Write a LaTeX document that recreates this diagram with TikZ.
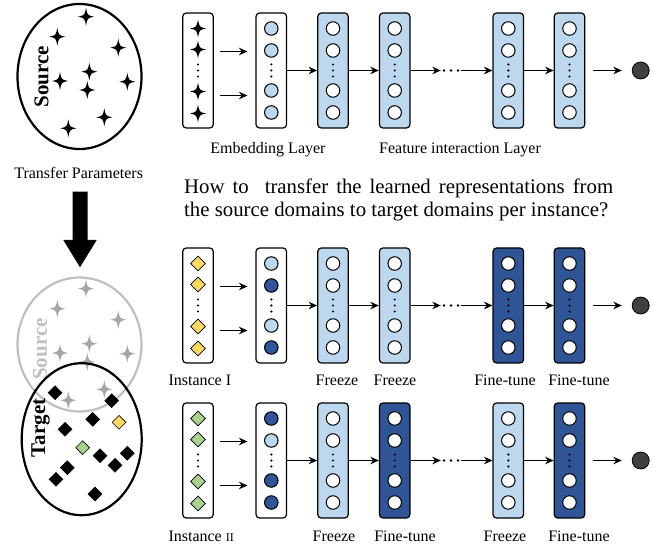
\documentclass[tikz,border=0pt]{standalone}
\usepackage{fontspec}
\setmainfont{Liberation Serif}
\usetikzlibrary{arrows,arrows.meta,positioning,shapes}

\definecolor{paleblue}{HTML}{BDD7EE}
\definecolor{deepblue}{HTML}{2F5597}
\definecolor{gold}{HTML}{FFD966}
\definecolor{leaf}{HTML}{A9D18E}
\definecolor{ghost}{HTML}{BFBFBF}
\definecolor{ghoststar}{HTML}{A6A6A6}
\definecolor{sinkgray}{HTML}{404040}

\tikzset{
  spark/.pic={\fill (0,-9) .. controls (1.4,-1.4) .. (8,0) .. controls (1.4,1.4) .. (0,9)
    .. controls (-1.4,1.4) .. (-8,0) .. controls (-1.4,-1.4) .. (0,-9) -- cycle;}
}

\begin{document}
\begin{tikzpicture}[x=1pt,y=-1pt,>={Stealth[length=8.5pt,width=7.5pt]},
    layer/.style={rectangle,rounded corners=3.5pt,draw,line width=1.2pt,fill=white,
      minimum width=30.5pt,minimum height=115pt,inner sep=0pt},
    unit/.style={circle,draw,line width=1pt,fill=white,minimum size=13.5pt,inner sep=0pt},
    gem/.style={diamond,draw,line width=0.6pt,minimum size=15pt,inner sep=0pt},
    sink node/.style={circle,draw,line width=0.8pt,fill=sinkgray,minimum size=17pt,inner sep=0pt},
    gap node/.style={minimum width=20pt,minimum height=6pt,inner sep=0pt},
    flow/.style={->,line width=1.3pt},
    lbl/.style={font=\fontsize{16}{18}\selectfont},
    realm/.style={font=\fontsize{21}{21}\selectfont\bfseries,rotate=90}]

  \useasboundingbox (0,0) rectangle (654,548);

  % source domain, then the transferred copy over the target domain
  \draw[line width=2.2pt] (79.5,76.5) ellipse [x radius=62, y radius=72.5];
  \draw[ghost,line width=2.2pt] (79.5,344.5) ellipse [x radius=62, y radius=67];
  \foreach \sx/\sy in {86/16.7, 57.3/36.7, 118.3/47.7, 89.3/71.7, 60/81, 127.3/81.7,
                       87.3/90, 104.3/117.3, 68.3/128.3} {
    \pic at (\sx,\sy) {spark};
    \pic[ghoststar] at (\sx,\sy+272) {spark};
  }
  \node[realm] (src) at (41.5,76.7) {Source};
  \node[realm,ghost] (src-copy) at (40,349) {Source};

  \draw[line width=2.2pt] (81.7,439.2) ellipse [x radius=60, y radius=76];
  \node[realm] (tgt) at (40.5,428) {Target};
  \foreach \dx/\dy [count=\i] in {55/392.7, 111.7/400.7, 92.7/419.3, 65/429.3, 100/455.7,
                                  127.3/453.3, 115/465.3, 67.3/467.7, 56/479.3, 95/494}
    \node[gem,fill=black,minimum size=14pt] (mark-\i) at (\dx,\dy) {};
  \node[gem,fill=gold,minimum size=14pt] (mark-y) at (119,422.3) {};
  \node[gem,fill=leaf,minimum size=14pt] (mark-g) at (82.7,447.7) {};

  \node[lbl] (tp-lbl) at (78.7,173) {Transfer Parameters};
  \fill (72.7,191.7) -- (87.7,191.7) -- (87.7,240) -- (96.7,240) -- (80,267.3)
    -- (63.3,240) -- (72.7,240) -- cycle;

  % the three rows of columns
  \foreach \r/\y/\fa/\fb/\fc/\fd in {t/70.5/paleblue/paleblue/paleblue/paleblue,
                                     m/305.5/paleblue/paleblue/deepblue/deepblue,
                                     b/460.5/paleblue/deepblue/paleblue/deepblue} {
    \node[layer] (\r0) at (198,\y) {};
    \node[layer] (\r1) at (271.3,\y) {};
    \node[layer,fill=\fa] (\r2) at (333,\y) {};
    \node[layer,fill=\fb] (\r3) at (394.7,\y) {};
    \node[layer,fill=\fc] (\r4) at (508.3,\y) {};
    \node[layer,fill=\fd] (\r5) at (569.5,\y) {};
    \node[gap node] (\r-gap) at (451,\y) {};
    \node[sink node] (\r-out) at (640.7,\y) {};

    \foreach \c in {2,...,5}
      \foreach \k/\d in {1/-42,2/-20,3/20,4/42}
        \path (\r\c) ++(0,\d) node[unit] (\r\c-\k) {};
    \foreach \c in {0,...,5}
      \foreach \e in {-6,0,6}
        \fill (\r\c) ++(0,\e) circle [radius=1.2];
    \foreach \e in {-7,0,7}
      \fill (\r-gap) ++(\e,0) circle [radius=1.3];

    \path[flow] ([shift={(6,-19)}]\r0.east) edge ([shift={(-8,-19)}]\r1.west)
      ([shift={(6,25)}]\r0.east) edge ([shift={(-8,25)}]\r1.west)
      (\r1) edge (\r2)
      (\r2) edge (\r3)
      (\r3) edge (\r-gap)
      (\r-gap) edge (\r4)
      (\r4) edge (\r5)
      ([xshift=8pt]\r5.east) edge ([xshift=-10pt]\r-out.west);
  }

  % embedding units
  \foreach \r/\fa/\fb/\fc/\fd in {t/paleblue/paleblue/paleblue/paleblue,
                                  m/paleblue/deepblue/paleblue/deepblue,
                                  b/deepblue/paleblue/deepblue/deepblue}
    \foreach \k/\d/\f in {1/-42/\fa,2/-20/\fb,3/20/\fc,4/42/\fd}
      \path (\r1) ++(0,\d) node[unit,fill=\f] (\r1-\k) {};

  % raw inputs
  \foreach \d in {-42,-21,21,43} {
    \pic at ([yshift=-\d pt]t0.center) {spark};
    \path (m0) ++(0,\d) node[gem,fill=gold] {};
    \path (b0) ++(0,\d) node[gem,fill=leaf] {};
  }

  % texts
  \node[lbl] (emb-lbl) at (268,150) {Embedding Layer};
  \node[lbl] (fi-lbl) at (460,150) {Feature interaction Layer};
  \node[anchor=west,inner sep=0pt,font=\fontsize{20.8}{25}\selectfont] (ask1) at (184,188)
    {\makebox[429pt][s]{How to\ \ transfer the learned representations from}};
  \node[anchor=west,inner sep=0pt,font=\fontsize{20.8}{25}\selectfont] (ask2) at (184,212)
    {the source domains to target domains per instance?};

  \node[lbl,anchor=west] (inst1) at (165,380) {Instance I};
  \node[lbl] (m2-lbl) at (337,380) {Freeze};
  \node[lbl] (m3-lbl) at (395,380) {Freeze};
  \node[lbl] (m4-lbl) at (505,380) {Fine-tune};
  \node[lbl] (m5-lbl) at (579,380) {Fine-tune};

  \node[lbl,anchor=west] (inst2) at (165,536.5) {Instance {\fontsize{12}{12}\selectfont II}};
  \node[lbl] (b2-lbl) at (334,536.5) {Freeze};
  \node[lbl] (b3-lbl) at (405,536.5) {Fine-tune};
  \node[lbl] (b4-lbl) at (505,536.5) {Freeze};
  \node[lbl] (b5-lbl) at (579,536.5) {Fine-tune};
\end{tikzpicture}
\end{document}
